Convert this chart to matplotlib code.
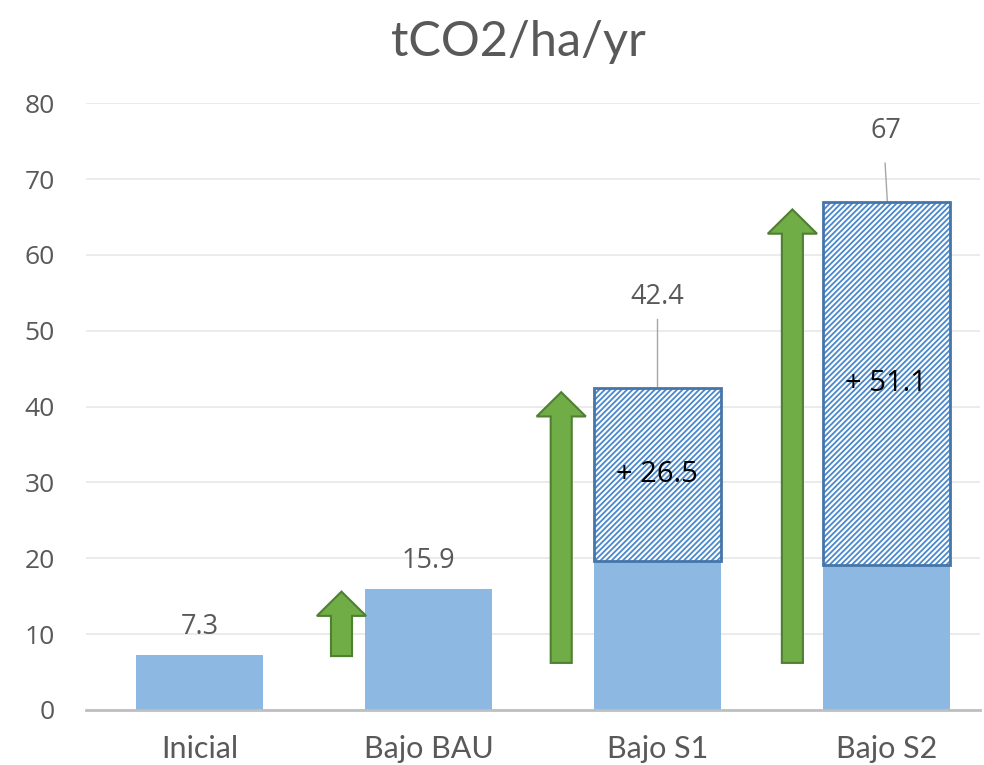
import numpy as np
import matplotlib.pyplot as plt
from matplotlib.patches import FancyArrow

# data
categories = ['Inicial', 'Bajo BAU', 'Bajo S1', 'Bajo S2']
base_vals = [7.3, 15.9, 19.6, 19.1]        # solid blue part
total_vals = [7.3, 15.9, 42.4, 67.0]       # top of each column
bau_val = 15.9                              # reference for the increments
arrow_x = [0.62, 1.58, 2.59]
arrow_start = [7.1, 6.2, 6.2]
arrow_end = [15.6, 41.9, 66.0]

blue = '#8DB8E1'
hatch_blue = '#4A88CC'
edge_blue = '#4675A8'
green = '#70AD47'
green_edge = '#4F7F30'
txt = '#595959'

plt.rcParams['font.family'] = ['Open Sans', 'DejaVu Sans']
plt.rcParams['hatch.linewidth'] = 1.3

fig = plt.figure(figsize=(9.84, 7.65), dpi=100)
ax = fig.add_axes([0.087, 0.072, 0.909, 0.793])

x = np.arange(len(categories))
w = 0.555

ax.bar(x, base_vals, width=w, color=blue, zorder=2)

# hatched increments on the scenario columns
extra = np.array(total_vals) - np.array(base_vals)
for i in range(2, 4):
    ax.bar(x[i], extra[i], bottom=base_vals[i], width=w, facecolor='white',
           edgecolor=hatch_blue, hatch='//////', linewidth=0, zorder=2)
    ax.bar(x[i], extra[i], bottom=base_vals[i], width=w, facecolor='none',
           edgecolor=edge_blue, linewidth=2, zorder=3)
    ax.text(x[i], base_vals[i] + extra[i] / 2, f'+ {total_vals[i] - bau_val:.1f}',
            ha='center', va='center', fontsize=21, color='black', zorder=4)

# value labels
for i in range(2):
    ax.annotate(f'{total_vals[i]:g}', (x[i], total_vals[i]), xytext=(0, 10),
                textcoords='offset points', ha='center', va='bottom',
                fontsize=19.5, color=txt)

# labels with leader lines for the taller columns
lead = [(2, 54.4, 51.6), (3, 76.3, 72.1)]
for i, ly, ltop in lead:
    ax.text(x[i], ly, f'{total_vals[i]:g}', ha='center', va='center',
            fontsize=19.5, color=txt)
    ax.plot([x[i] - 0.005 * (i - 2), x[i] + 0.005 * (i - 2)],
            [ltop, total_vals[i]], color='#A6A6A6', lw=1, zorder=1)

# green arrows
for ax_x, y0, y1 in zip(arrow_x, arrow_start, arrow_end):
    ax.add_patch(FancyArrow(ax_x, y0, 0, y1 - y0, width=0.092, head_width=0.215,
                            head_length=3.2, length_includes_head=True,
                            facecolor=green, edgecolor=green_edge, lw=1.5, zorder=3))

ax.set_ylim(0, 80)
ax.set_xlim(-0.498, 3.41)
ax.set_yticks(np.arange(0, 81, 10))
ax.set_xticks(x)
ax.set_xticklabels(categories, family=['Lato', 'DejaVu Sans'])
ax.yaxis.grid(True, color='#E8E8E8', lw=1.2, zorder=0)
ax.set_axisbelow(True)
for s in ['top', 'right', 'left']:
    ax.spines[s].set_visible(False)
ax.spines['bottom'].set_color('#BFBFBF')
ax.spines['bottom'].set_linewidth(2)
ax.tick_params(axis='y', length=0, pad=22, labelsize=19, labelcolor=txt)
ax.tick_params(axis='x', length=0, pad=18, labelsize=22, labelcolor=txt)

fig.text(0.527, 0.945, 'tCO2/ha/yr', ha='center', va='center', fontsize=35,
         color=txt, family=['Lato', 'DejaVu Sans'])

fig.savefig('out.png', dpi=100)
